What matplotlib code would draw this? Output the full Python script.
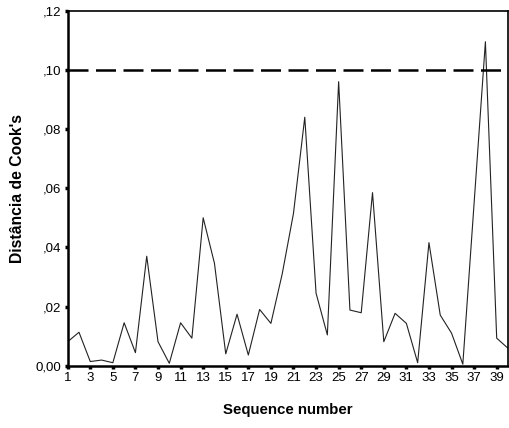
import matplotlib
matplotlib.use("Agg")
import matplotlib.pyplot as plt
from matplotlib.ticker import FixedLocator, FuncFormatter

plt.rcParams["font.family"] = ["Liberation Sans", "DejaVu Sans"]

# Cook's distance per sequence number
seq = list(range(1, 41))
cooks = [0.0081, 0.0113, 0.0014, 0.0019, 0.0010, 0.0145, 0.0044, 0.0370,
         0.0081, 0.0008, 0.0145, 0.0093, 0.0500, 0.0346, 0.0040, 0.0174,
         0.0036, 0.0190, 0.0143, 0.0310, 0.0515, 0.0840, 0.0245, 0.0104,
         0.0960, 0.0188, 0.0179, 0.0585, 0.0081, 0.0177, 0.0143, 0.0010,
         0.0416, 0.0171, 0.0110, 0.0005, 0.0550, 0.1095, 0.0093, 0.0059]
threshold = 0.10
xticks = list(range(1, 40, 2))
yticks = [0.00, 0.02, 0.04, 0.06, 0.08, 0.10, 0.12]


def ylab(v, pos):
    # SPSS style: "0,00" for zero, ",02" for the rest
    if v == 0:
        return "0,00"
    return f"{v:.2f}"[1:].replace(".", ",")


fig = plt.figure(figsize=(5.09, 4.28), dpi=100)
ax = fig.add_axes([0.133, 0.1456, 0.865, 0.8294])

ax.plot(seq, cooks, color="#222222", lw=0.8)
ax.axhline(threshold, color="black", lw=1.8, dashes=(8, 3))

ax.set_xlim(1, 40)
ax.set_ylim(0, 0.12)
ax.xaxis.set_major_locator(FixedLocator(xticks))
ax.yaxis.set_major_locator(FixedLocator(yticks))
ax.yaxis.set_major_formatter(FuncFormatter(ylab))

ax.tick_params(axis="both", direction="out", length=2.5, width=2.5,
               labelsize=9.5, pad=2)
for side in ["left", "bottom"]:
    ax.spines[side].set_linewidth(1.8)
for side in ["top", "right"]:
    ax.spines[side].set_linewidth(1.2)

ax.set_xlabel("Sequence number", fontsize=10.8, fontweight="bold", labelpad=14)
ax.set_ylabel("Distância de Cook's", fontsize=11.3, fontweight="bold", labelpad=8)

fig.savefig("out.png", dpi=100)
